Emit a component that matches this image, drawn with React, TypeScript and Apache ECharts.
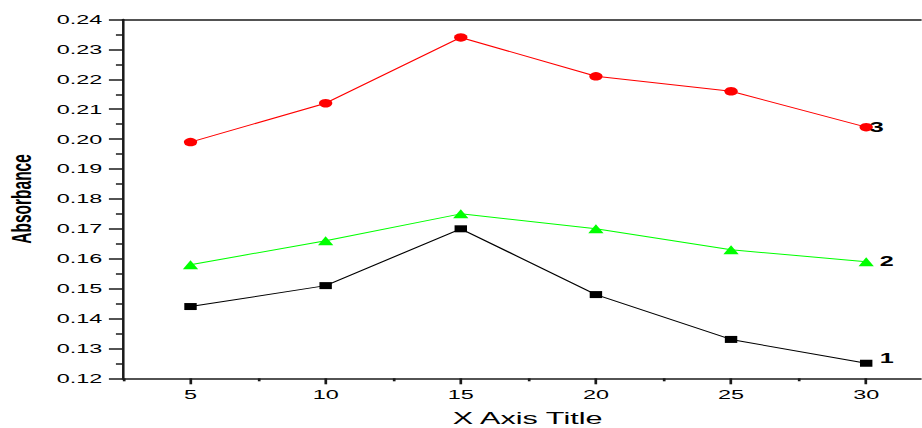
import React, { useEffect, useRef } from "react";
import * as echarts from "echarts";

const xValues = [5, 10, 15, 20, 25, 30];
const series1 = [0.144, 0.151, 0.17, 0.148, 0.133, 0.125];
const series2 = [0.158, 0.166, 0.175, 0.17, 0.163, 0.159];
const series3 = [0.199, 0.212, 0.234, 0.221, 0.216, 0.204];
const xMajorTicks = [5, 10, 15, 20, 25, 30];
const xMinorTicks = [2.5, 7.5, 12.5, 17.5, 22.5, 27.5];
const seriesNames = ["1", "2", "3"];

const pairs = (ys: number[]) => xValues.map((x, i) => [x, ys[i]]);

// The reference is horizontally stretched; draw at narrow width and stretch with CSS.
const STRETCH = 1.8;
const INNER_W = 512;

export default function App() {
  const ref = useRef<HTMLDivElement>(null);
  useEffect(() => {
    if (!ref.current) return;
    const chart = echarts.init(ref.current, undefined, { renderer: "svg" });
    const axisColor = "#1a1a1a";
    const font = "'Liberation Sans', Arial, sans-serif";
    const labelStyle = { fontFamily: font, fontSize: 14, fontWeight: "bold" as const, color: "#000" };
    chart.setOption({
      animation: false,
      backgroundColor: "#fff",
      grid: { left: 68.3, top: 19.5, bottom: 49.7, right: 0, containLabel: false, outerBoundsMode: "none" },
      xAxis: [
        {
          type: "value",
          min: 2.5,
          max: 32.05,
          position: "bottom",
          name: "X Axis Title",
          nameLocation: "middle",
          nameGap: 31,
          nameTextStyle: { fontFamily: font, fontSize: 17, color: "#000", padding: [0, 0, 0, 6] },
          axisLine: { show: true, onZero: false, lineStyle: { color: axisColor, width: 1.6 } },
          axisTick: { show: true, inside: false, length: 6, customValues: xMajorTicks, lineStyle: { color: axisColor, width: 1.5 } },
          axisLabel: { customValues: xMajorTicks, margin: 10, fontFamily: font, fontSize: 13, color: "#000" },
          splitLine: { show: false },
        },
        {
          type: "value",
          min: 2.5,
          max: 32.05,
          position: "bottom",
          axisLine: { show: false },
          axisTick: { show: true, inside: false, length: 3, customValues: xMinorTicks, lineStyle: { color: axisColor, width: 1.5 } },
          axisLabel: { show: false },
          splitLine: { show: false },
        },
        {
          type: "value",
          min: 2.5,
          max: 32.05,
          position: "top",
          axisLine: { show: true, onZero: false, lineStyle: { color: axisColor, width: 1.6 } },
          axisTick: { show: false },
          axisLabel: { show: false },
          splitLine: { show: false },
        },
      ],
      yAxis: {
        type: "value",
        min: 0.12,
        max: 0.24,
        interval: 0.01,
        name: "Absorbance",
        nameLocation: "middle",
        nameGap: 48,
        nameRotate: 90,
        nameTextStyle: { fontFamily: font, fontSize: 15.5, fontWeight: "bold", color: "#000" },
        axisLine: { show: true, onZero: false, lineStyle: { color: axisColor, width: 1.4 } },
        axisTick: { show: true, inside: false, length: 7.8, lineStyle: { color: axisColor, width: 1.5 } },
        minorTick: { show: true, splitNumber: 2, length: 3.9, lineStyle: { color: axisColor, width: 1.5 } },
        axisLabel: {
          margin: 11.5,
          fontFamily: font,
          fontSize: 13,
          color: "#000",
          formatter: (v: number) => v.toFixed(2),
        },
        splitLine: { show: false },
        minorSplitLine: { show: false },
      },
      series: [
        {
          name: seriesNames[0],
          type: "line",
          data: pairs(series1),
          symbol: "rect",
          symbolSize: [6.9, 7],
          lineStyle: { color: "#000", width: 1 },
          itemStyle: { color: "#000" },
          endLabel: { show: true, formatter: seriesNames[0], offset: [-0.5, -5], ...labelStyle },
        },
        {
          name: seriesNames[1],
          type: "line",
          data: pairs(series2),
          symbol: "triangle",
          symbolSize: [8.5, 9],
          lineStyle: { color: "#00ff00", width: 1 },
          itemStyle: { color: "#00ff00" },
          endLabel: { show: true, formatter: seriesNames[1], offset: [-0.5, 0], ...labelStyle },
        },
        {
          name: seriesNames[2],
          type: "line",
          data: pairs(series3),
          symbol: "circle",
          symbolSize: [7.4, 8.5],
          lineStyle: { color: "#ff0000", width: 1 },
          itemStyle: { color: "#ff0000" },
          endLabel: { show: true, formatter: seriesNames[2], offset: [-6, 0], ...labelStyle },
        },
      ],
    });
    return () => chart.dispose();
  }, []);
  return (
    <div style={{ position: "fixed", left: 0, top: 0, width: 922, height: 428, background: "#fff", overflow: "hidden" }}>
      <div
        ref={ref}
        style={{
          position: "absolute",
          left: 0,
          top: 0,
          width: INNER_W,
          height: 428,
          transform: `scaleX(${STRETCH})`,
          transformOrigin: "0 0",
        }}
      />
    </div>
  );
}
